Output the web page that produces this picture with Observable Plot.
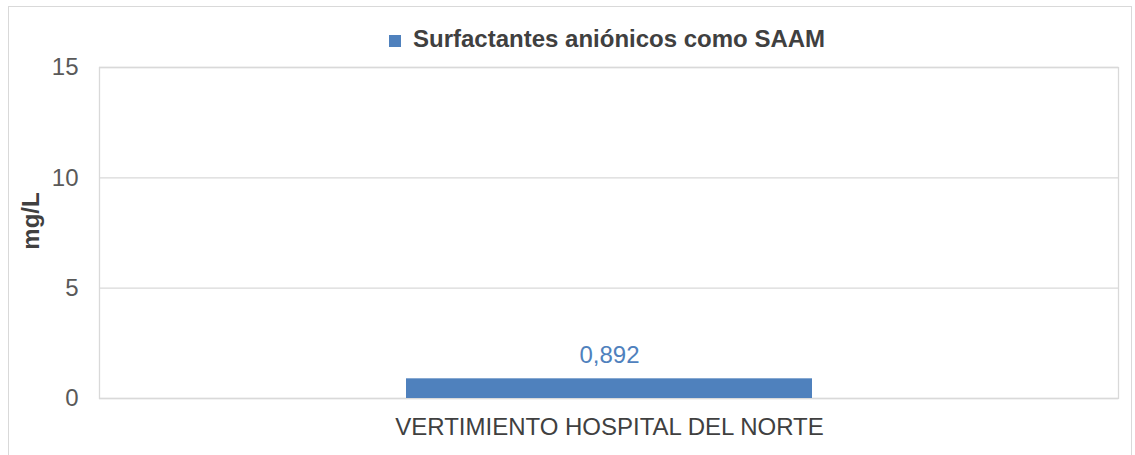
<!DOCTYPE html>
<html>
<head>
<meta charset="utf-8">
<script src="https://cdn.jsdelivr.net/npm/d3@7"></script>
<script src="https://cdn.jsdelivr.net/npm/@observablehq/plot@0.6"></script>
<style>
  html, body { margin: 0; padding: 0; background: #fff; }
  #wrap { position: relative; width: 1135px; height: 455px; overflow: hidden; font-family: "Liberation Sans", Arial, sans-serif; }
  #border { position: absolute; left: 8px; top: 6px; width: 1124px; height: 470px; border: 1px solid #d9d9d9; box-sizing: border-box; }
  #chart { position: absolute; left: 0; top: 0; }
  #legend { position: absolute; left: 389px; top: 27px; height: 24px; line-height: 24px; font-size: 24px; font-weight: bold; color: #404040; white-space: nowrap; }
  #legend .sw { position: absolute; left: 0; top: 8px; width: 12px; height: 12px; background: #4F81BD; }
  #legend .tx { position: absolute; left: 24px; top: 0; }
  #ylabel { position: absolute; left: 31px; top: 221px; font-size: 24px; font-weight: bold; color: #404040; transform: translate(-50%, -50%) rotate(-90deg); white-space: nowrap; line-height: 24px; }
</style>
</head>
<body>
<div id="wrap">
  <div id="border"></div>
  <div id="chart"></div>
  <div id="legend"><span class="sw"></span><span class="tx"></span></div>
  <div id="ylabel"></div>
</div>
<script>
const categories = ["VERTIMIENTO HOSPITAL DEL NORTE"];
const values = [0.892];
const seriesName = "Surfactantes aniónicos como SAAM";
const yTicks = [0, 5, 10, 15];
const yLabel = "mg/L";

const data = categories.map((c, i) => ({category: c, value: values[i]}));
const fmt = v => String(v).replace(".", ",");

const chart = Plot.plot({
  width: 1135,
  height: 455,
  marginLeft: 99,
  marginRight: 17,
  marginTop: 67,
  marginBottom: 57,
  style: {fontFamily: "'Liberation Sans', Arial, sans-serif", fontSize: "24px", background: "transparent", overflow: "visible"},
  x: {domain: categories, padding: 0.43, label: null},
  y: {domain: [0, 15], label: null},
  marks: [
    Plot.ruleY(yTicks, {stroke: "#d9d9d9", strokeWidth: 1.3}),
    Plot.frame({stroke: "#d9d9d9", strokeWidth: 1.3}),
    Plot.barY(data, {x: "category", y: "value", fill: "#4F81BD"}),
    Plot.text(data, {x: "category", y: "value", text: d => fmt(d.value), fill: "#4F81BD", lineAnchor: "bottom", dy: -16, fontSize: 24}),
    Plot.axisY({ticks: yTicks, tickSize: 0, tickPadding: 21, tickFormat: d => String(d), label: null, color: "#595959", fontSize: 24}),
    Plot.axisX({tickSize: 0, tickPadding: 19, label: null, color: "#404040", fontSize: 24})
  ]
});
document.getElementById("chart").appendChild(chart);
document.querySelector("#legend .tx").textContent = seriesName;
document.getElementById("ylabel").textContent = yLabel;
</script>
</body>
</html>
